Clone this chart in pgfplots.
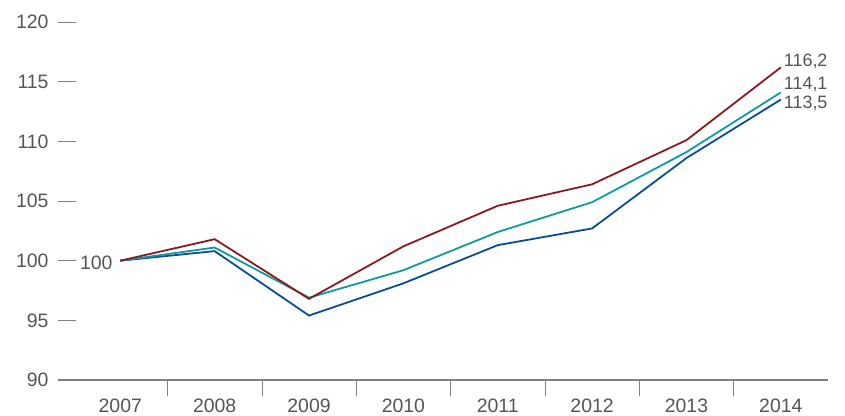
\documentclass[border=0pt]{standalone}
\usepackage{pgfplots}
\pgfplotsset{compat=1.18}
\usepackage{fontspec}
\setmainfont{Liberation Sans}
\usetikzlibrary{calc}
\definecolor{cred}{HTML}{8B1A1F}
\definecolor{cteal}{HTML}{0E9A9E}
\definecolor{cblue}{HTML}{0B4C92}
\definecolor{txt}{HTML}{555555}
\definecolor{axc}{HTML}{808080}
\begin{document}
\begin{tikzpicture}
\begin{axis}[scale only axis, width=770bp, height=358bp,
 xmin=-0.66, xmax=7.5, ymin=90, ymax=120,
 axis lines=left, y axis line style={draw=none},
 x axis line style={draw=axc, line width=1.2pt, -},
 xtick={0,...,7}, xticklabels={2007,2008,2009,2010,2011,2012,2013,2014},
 major x tick style={draw=none},
 minor xtick={0.5,1.5,...,6.5}, minor x tick style={draw=axc, line width=0.6pt},
 minor tick length=16bp,
 y tick style={draw=axc, line width=0.6pt}, major tick length=18bp,
 ytick={90,95,...,120},
 tick align=inside, xtick align=outside,
 ytick pos=left, xtick pos=bottom,
 yticklabel style={xshift=-6bp},
 xticklabel style={yshift=3bp},
 ticklabel style={font=\fontsize{19.5}{21}\selectfont, text=txt},
 /pgf/number format/assume math mode=true,
 clip=false]
\addplot[cblue, line width=1.8pt] coordinates {(0,100)(1,100.8)(2,95.4)(3,98.1)(4,101.3)(5,102.7)(6,108.6)(7,113.5)};
\addplot[cteal, line width=1.8pt] coordinates {(0,100)(1,101.1)(2,96.9)(3,99.2)(4,102.4)(5,104.9)(6,109.1)(7,114.1)};
\addplot[cred, line width=1.8pt] coordinates {(0,100)(1,101.8)(2,96.8)(3,101.2)(4,104.6)(5,106.4)(6,110.1)(7,116.2)};
\node[anchor=west, text=txt, font=\fontsize{18}{20}\selectfont, inner sep=1bp] at (axis cs:7.02,116.7) {116,2};
\node[anchor=west, text=txt, font=\fontsize{18}{20}\selectfont, inner sep=1bp] at (axis cs:7.02,114.8) {114,1};
\node[anchor=west, text=txt, font=\fontsize{18}{20}\selectfont, inner sep=1bp] at (axis cs:7.02,113.2) {113,5};
\node[anchor=east, text=txt, font=\fontsize{19.5}{21}\selectfont, inner sep=1bp] at (axis cs:-0.07,99.8) {100};
\end{axis}
\pgfresetboundingbox
\path ($(current axis.south west)+(-58bp,-35bp)$) rectangle ($(current axis.north east)+(17bp,22bp)$);
\end{tikzpicture}
\end{document}
